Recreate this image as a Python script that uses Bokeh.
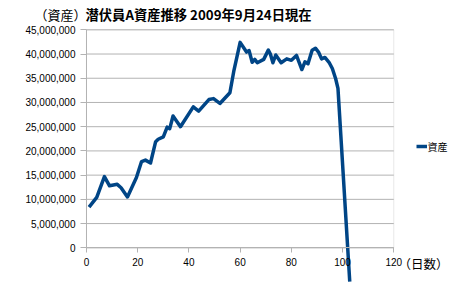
from bokeh.plotting import figure
from bokeh.models import (Range1d, FixedTicker, NumeralTickFormatter, LinearAxis,
                          BoxAnnotation, Label, Legend, LegendItem)
from bokeh.embed import file_html
from bokeh.resources import INLINE

# ---- data ----
days = [1, 4, 7, 9, 12, 13.5, 16, 19.5, 21.5, 23, 25, 27, 28, 30, 31.5, 32.5,
        33.8, 36.7, 41.7, 43.8, 47.8, 49.6, 52.1, 56, 57.5, 60, 62.5, 63.5,
        64.7, 65.7, 66.7, 69.2, 71, 71.8, 72.8, 73.9, 76, 78.2, 80, 82, 84.1,
        85.3, 86.5, 88.1, 89.4, 90.6, 91.8, 93.1, 94.7, 96, 97.3, 98.2, 102.8]
assets = [8.4e6, 10.4e6, 14.7e6, 12.8e6, 13.1e6, 12.4e6, 10.5e6, 14.5e6, 17.8e6,
          18.1e6, 17.5e6, 21.9e6, 22.4e6, 22.9e6, 24.9e6, 24.6e6, 27.2e6, 25.0e6,
          29.1e6, 28.2e6, 30.6e6, 30.8e6, 29.8e6, 32.0e6, 36.4e6, 42.4e6, 40.4e6,
          40.7e6, 38.3e6, 38.9e6, 38.2e6, 38.9e6, 40.8e6, 40.0e6, 38.2e6, 39.8e6,
          38.2e6, 39.0e6, 38.7e6, 39.7e6, 36.8e6, 38.4e6, 38.0e6, 40.8e6, 41.2e6,
          40.4e6, 39.0e6, 39.3e6, 38.3e6, 37.0e6, 34.9e6, 32.9e6, -7.0e6]

x_ticks = [0, 20, 40, 60, 80, 100, 120]
y_ticks = [0, 5000000, 10000000, 15000000, 20000000, 25000000,
           30000000, 35000000, 40000000, 45000000]
title_prefix = "（資産）"
title_main = "潜伏員A資産推移 2009年9月24日現在"
x_title = "（日数）"
series_name = "資産"

GRID = "#b3b3b3"
LINE = "#004586"

# frame covers the whole canvas; ranges chosen so the 0..120 / 0..45M box
# lands where the reference plot area is
p = figure(width=463, height=299, output_backend="svg", toolbar_location=None,
           x_range=Range1d(-33.58, 147.22), y_range=Range1d(-10.672e6, 51.048e6),
           x_axis_location=None, y_axis_location=None,
           frame_width=463, frame_height=299,
           min_border_left=0, min_border_right=0,
           min_border_top=0, min_border_bottom=0)
p.outline_line_color = None
p.background_fill_color = "white"
p.border_fill_color = "white"
p.xgrid.visible = False
p.ygrid.visible = False

# horizontal gridlines limited to the plot area
p.segment(x0=[x_ticks[0]] * len(y_ticks), x1=[x_ticks[-1]] * len(y_ticks),
          y0=y_ticks, y1=y_ticks, line_color=GRID, line_width=1)

# plot-area box (0..120, 0..45M)
p.add_layout(BoxAnnotation(left=x_ticks[0], right=x_ticks[-1],
                           bottom=y_ticks[0], top=y_ticks[-1],
                           fill_alpha=0, line_color=GRID, line_width=1,
                           level="underlay"))

# y axis at x = 0
yaxis = LinearAxis(ticker=FixedTicker(ticks=y_ticks), fixed_location=0,
                   bounds=(y_ticks[0], y_ticks[-1]),
                   formatter=NumeralTickFormatter(format="0,0"))
yaxis.axis_line_color = GRID
yaxis.major_tick_in = 0
yaxis.major_tick_out = 6
yaxis.major_tick_line_color = GRID
yaxis.minor_tick_line_color = None
yaxis.major_label_text_font = "Liberation Sans"
yaxis.major_label_text_font_size = "10px"
yaxis.major_label_text_color = "black"
yaxis.major_label_standoff = 5
p.add_layout(yaxis, "left")

# x axis at y = 0
xaxis = LinearAxis(ticker=FixedTicker(ticks=x_ticks), fixed_location=0,
                   bounds=(x_ticks[0], x_ticks[-1]))
xaxis.axis_line_color = GRID
xaxis.major_tick_in = 0
xaxis.major_tick_out = 5
xaxis.major_tick_line_color = GRID
xaxis.minor_tick_line_color = None
xaxis.major_label_text_font = "Liberation Sans"
xaxis.major_label_text_font_size = "10px"
xaxis.major_label_text_color = "black"
xaxis.major_label_standoff = 5
p.add_layout(xaxis, "below")

r = p.line(days, assets, line_color=LINE, line_width=3.5, line_join="round")

legend = Legend(items=[LegendItem(label=series_name, renderers=[r])],
                location=(415.5, 145.5), glyph_width=11, glyph_height=12,
                label_height=12, label_standoff=1, padding=0, margin=0,
                spacing=0, border_line_color=None, background_fill_alpha=0,
                label_text_font_size="10px", label_text_font="Noto Sans CJK JP",
                label_text_color="black")
p.add_layout(legend, "center")

# titles
p.add_layout(Label(x=86, y=285.5, x_units="screen", y_units="screen",
                   text=title_prefix, text_align="right", text_baseline="middle",
                   text_font="Noto Sans CJK JP", text_font_size="13px",
                   text_color="black"))
p.add_layout(Label(x=85, y=285.5, x_units="screen", y_units="screen",
                   text=title_main, text_align="left", text_baseline="middle",
                   text_font="Noto Sans CJK JP", text_font_size="13.3px",
                   text_font_style="bold", text_color="black"))
p.add_layout(Label(x=398, y=36, x_units="screen", y_units="screen",
                   text=x_title, text_align="left", text_baseline="middle",
                   text_font="Noto Sans CJK JP", text_font_size="12.5px",
                   text_color="black"))

open("out.html", "w").write(file_html(p, INLINE))
